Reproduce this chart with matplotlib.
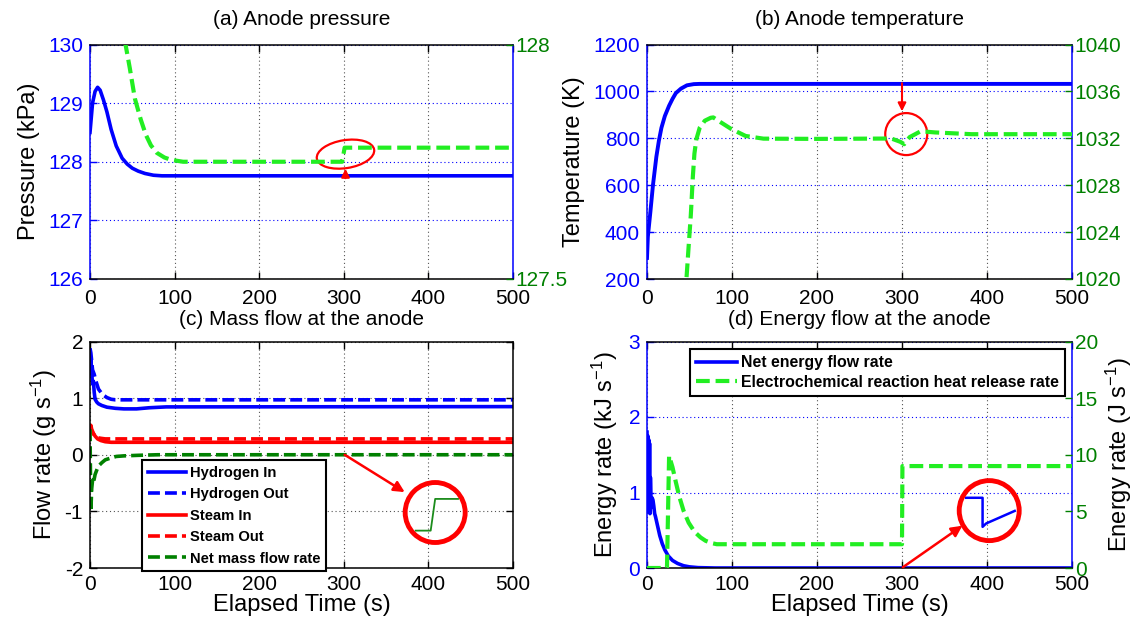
import matplotlib
matplotlib.use('Agg')
import matplotlib.pyplot as plt
import matplotlib.transforms as mtransforms
from matplotlib.patches import Ellipse, Circle

plt.rcParams['font.family'] = ['Liberation Sans', 'DejaVu Sans']
plt.rcParams['mathtext.default'] = 'regular'
plt.rcParams['axes.unicode_minus'] = False

# ---------------- data ----------------
time_ticks = [0, 100, 200, 300, 400, 500]

# (a) anode pressure
press_t = [0, 3, 6, 9, 12, 16, 20, 25, 31, 38, 44, 50, 57, 65, 75, 85, 96, 150, 300, 500]
press_v = [128.5, 129.0, 129.2, 129.27, 129.22, 129.05, 128.85, 128.55, 128.27, 128.06,
           127.96, 127.89, 127.84, 127.8, 127.77, 127.76, 127.76, 127.76, 127.76, 127.76]
press2_t = [38, 42, 47, 53, 60, 66, 72, 79, 88, 96, 110, 200, 298, 301, 400, 500]
press2_v = [128.05, 128.0, 127.95, 127.885, 127.84, 127.8075, 127.785, 127.769, 127.759,
            127.754, 127.75, 127.75, 127.75, 127.78, 127.78, 127.78]
a_left_ticks = [126, 127, 128, 129, 130]
a_right_ticks = [127.5, 128]
a_right_labels = ['127.5', '128']

# (b) anode temperature
temp_t = [0, 1, 4, 7, 11, 14, 17, 21, 26, 30, 34, 40, 47, 55, 62, 70, 500]
temp_v = [290, 380, 487, 600, 721, 790, 845, 895, 939, 968, 993, 1012, 1026, 1031, 1032, 1032, 1032]
temp2_t = [44, 46.4, 49, 51.5, 54, 55.8, 58, 62, 68, 75, 78, 86, 99, 116, 137, 200, 287.5,
           298, 302.6, 309, 322, 339, 382, 500]
temp2_v = [1018.5, 1020, 1022.8, 1025.4, 1028.8, 1030.7, 1031.9, 1032.9, 1033.5, 1033.75,
           1033.78, 1033.4, 1032.8, 1032.2, 1031.97, 1031.95, 1031.98, 1031.7, 1031.5,
           1032.1, 1032.6, 1032.5, 1032.35, 1032.35]
b_left_ticks = [200, 400, 600, 800, 1000, 1200]
b_right_ticks = [1020, 1024, 1028, 1032, 1036, 1040]

# (c) mass flow
h2_in_t = [0, 1, 2, 3, 4, 5, 6, 8, 10, 14, 20, 30, 40, 55, 70, 90, 500]
h2_in_v = [1.55, 1.7, 1.45, 1.25, 1.3, 1.1, 0.98, 0.93, 0.9, 0.87, 0.84, 0.82, 0.81, 0.81, 0.83, 0.845, 0.85]
h2_out_t = [0, 1, 2, 3, 5, 7, 10, 13, 16, 20, 25, 30, 500]
h2_out_v = [1.88, 1.8, 1.65, 1.5, 1.42, 1.3, 1.16, 1.1, 1.05, 1.01, 0.98, 0.97, 0.97]
st_in_t = [0, 1, 2, 4, 6, 9, 13, 18, 25, 500]
st_in_v = [0.45, 0.52, 0.45, 0.38, 0.33, 0.28, 0.25, 0.23, 0.22, 0.22]
st_out_t = [0, 1, 2, 4, 6, 9, 13, 18, 25, 500]
st_out_v = [0.40, 0.47, 0.42, 0.37, 0.33, 0.30, 0.29, 0.28, 0.28, 0.28]
net_t = [0, 0.5, 1, 2, 3, 4, 6, 8, 10, 14, 18, 24, 31, 40, 57, 80, 500]
net_v = [0.45, -0.3, -1.0, -0.6, -0.45, -0.5, -0.35, -0.27, -0.2, -0.14, -0.09, -0.06,
         -0.03, -0.02, -0.01, 0.0, 0.0]
c_ticks = [-2, -1, 0, 1, 2]
c_inset_t = [385, 402.7, 408, 435]
c_inset_v = [-1.34, -1.34, -0.78, -0.78]

# (d) energy flow
en_t = [0, 0.5, 1, 1.5, 2, 2.5, 3, 3.5, 4, 5, 6, 7, 8, 9, 10, 12, 15, 18, 21, 25, 30, 36,
        43, 50, 60, 80, 500]
en_v = [1.8, 0.8, 1.75, 0.75, 1.7, 0.75, 1.65, 0.72, 1.2, 0.8, 0.93, 0.9, 0.82, 0.72, 0.68,
        0.58, 0.43, 0.32, 0.24, 0.16, 0.1, 0.06, 0.03, 0.015, 0.005, 0.0, 0.0]
heat_t = [0, 23.5, 26, 30, 34, 38, 43, 49, 56, 63, 69, 76, 82, 90, 300, 300.5, 500]
heat_v = [0, 0, 9.9, 8.9, 7.56, 6.3, 5.06, 4.0, 3.19, 2.7, 2.4, 2.2, 2.1, 2.1, 2.1, 9.0, 9.0]
d_left_ticks = [0, 1, 2, 3]
d_right_ticks = [0, 5, 10, 15, 20]
d_inset_t = [375.5, 394.8, 394.8, 399, 432.6]
d_inset_v = [0.93, 0.93, 0.545, 0.59, 0.756]

# ---------------- style ----------------
BLUE = '#0000ff'
LIME = '#22ee22'
DKGREEN = '#008000'
RED = '#ff0000'
TICK_FS = 15
LABEL_FS = 17
TITLE_FS = 15
DASH = (3.3, 1.4)

fig = plt.figure(figsize=(11.37, 6.19), dpi=100)
W, H = 1137.0, 619.0


def rect(l, r, t, b):
    return [l / W, 1 - b / H, (r - l) / W, (b - t) / H]


ax_a = fig.add_axes(rect(90, 513, 44.5, 279))
ax_b = fig.add_axes(rect(647, 1072, 44.5, 279))
ax_c = fig.add_axes(rect(90, 513, 341.5, 568))
ax_d = fig.add_axes(rect(647, 1072, 341.5, 568))


def style_main(ax, ycolor, hgrid_color, xpad=5):
    ax.set_xlim(0, 500)
    ax.set_xticks(time_ticks)
    ax.tick_params(axis='x', direction='in', top=True, bottom=True, length=5, width=1,
                   color='black', labelcolor='black', labelsize=TICK_FS, pad=xpad)
    ax.tick_params(axis='y', direction='in', left=True, right=True, length=5, width=1,
                   color=ycolor, labelcolor=ycolor, labelsize=TICK_FS, pad=5)
    ax.spines['left'].set_color(ycolor)
    ax.spines['right'].set_color(ycolor)
    for s in ax.spines.values():
        s.set_linewidth(1.1)
    ax.xaxis.grid(True, color='#555555', linestyle=(0, (1, 2.5)), linewidth=0.8)
    ax.yaxis.grid(True, color=hgrid_color, linestyle=(0, (1, 2.5)), linewidth=0.8)
    ax.set_axisbelow(True)


def style_twin(ax2):
    ax2.tick_params(axis='y', direction='in', right=True, length=5, width=1,
                    color=DKGREEN, labelcolor=DKGREEN, labelsize=TICK_FS, pad=2)
    for s in ax2.spines.values():
        s.set_visible(False)


def red_arrow(host, ref_ax, start, end, lw=1.8, ms=14):
    host.annotate('', xy=end, xytext=start, xycoords=ref_ax.transData,
                  textcoords=ref_ax.transData,
                  arrowprops=dict(arrowstyle='-|>', color=RED, lw=lw, mutation_scale=ms,
                                  shrinkA=0, shrinkB=0))


def inch_patch(host, ref_ax, patch, x, y):
    patch.set_transform(fig.dpi_scale_trans +
                        mtransforms.ScaledTranslation(x, y, ref_ax.transData))
    host.add_patch(patch)


def make_legend(host, handles, fs, **kw):
    leg = host.legend(handles=handles, borderaxespad=0, prop={'weight': 'bold', 'size': fs},
                      fancybox=False, edgecolor='black', framealpha=1, handlelength=2.6,
                      handletextpad=0.25, borderpad=0.4, **kw)
    leg.get_frame().set_linewidth(1.5)
    leg.set_zorder(10)
    return leg


# ---------- (a) ----------
ax = ax_a
style_main(ax, BLUE, BLUE, xpad=7)
ax.plot(press_t, press_v, color=BLUE, lw=2.6)
ax.set_ylim(126, 130)
ax.set_yticks(a_left_ticks)
ax.set_ylabel('Pressure (kPa)', fontsize=LABEL_FS, color='black', labelpad=6)
ax.set_title('(a) Anode pressure', fontsize=TITLE_FS, pad=14)
ax2 = ax.twinx()
ax2.plot(press2_t, press2_v, color=LIME, lw=3, dashes=DASH)
ax2.set_ylim(127.5, 128)
ax2.set_yticks(a_right_ticks)
ax2.set_yticklabels(a_right_labels)
style_twin(ax2)
ax2.set_xlim(0, 500)
inch_patch(ax2, ax, Ellipse((0, 0), 0.58, 0.28, angle=9, fill=False, ec=RED, lw=1.6),
           302, 128.13)
red_arrow(ax2, ax, (302, 127.72), (302, 127.88), lw=1.5, ms=12)

# ---------- (b) ----------
ax = ax_b
style_main(ax, BLUE, BLUE, xpad=7)
ax.plot(temp_t, temp_v, color=BLUE, lw=2.8)
ax.set_ylim(200, 1200)
ax.set_yticks(b_left_ticks)
ax.set_ylabel('Temperature (K)', fontsize=LABEL_FS, color='black', labelpad=6)
ax.set_title('(b) Anode temperature', fontsize=TITLE_FS, pad=14)
ax2 = ax.twinx()
ax2.plot(temp2_t, temp2_v, color=LIME, lw=3, dashes=DASH)
ax2.set_ylim(1020, 1040)
ax2.set_yticks(b_right_ticks)
style_twin(ax2)
ax2.set_xlim(0, 500)
inch_patch(ax2, ax, Circle((0, 0), 0.21, fill=False, ec=RED, lw=1.6), 305, 818)
red_arrow(ax2, ax, (300, 1035), (300, 915), lw=1.5, ms=12)

# ---------- (c) ----------
ax = ax_c
style_main(ax, 'black', '#555555')
l1, = ax.plot(h2_in_t, h2_in_v, color=BLUE, lw=2.6, label='Hydrogen In')
l2, = ax.plot(h2_out_t, h2_out_v, color=BLUE, lw=2.6, dashes=DASH, label='Hydrogen Out')
l3, = ax.plot(st_in_t, st_in_v, color=RED, lw=2.6, label='Steam In')
l4, = ax.plot(st_out_t, st_out_v, color=RED, lw=2.6, dashes=DASH, label='Steam Out')
l5, = ax.plot(net_t, net_v, color=DKGREEN, lw=2.6, dashes=DASH, label='Net mass flow rate')
ax.set_ylim(-2, 2)
ax.set_yticks(c_ticks)
ax.set_ylabel('Flow rate (g s$^{-1}$)', fontsize=LABEL_FS, color='black', labelpad=4)
ax.set_xlabel('Elapsed Time (s)', fontsize=LABEL_FS, labelpad=0)
ax.set_title('(c) Mass flow at the anode', fontsize=TITLE_FS, pad=12)
make_legend(ax, [l1, l2, l3, l4, l5], 10.6, loc='lower left',
            bbox_to_anchor=(0.123, -0.015), labelspacing=0.5)
ax.plot(c_inset_t, c_inset_v, color='#1c8c1c', lw=1.3)
inch_patch(ax, ax, Circle((0, 0), 0.30, fill=False, ec=RED, lw=3.5), 408, -1.02)
red_arrow(ax, ax, (301, 0.0), (372, -0.66), lw=1.8, ms=16)

# ---------- (d) ----------
ax = ax_d
style_main(ax, BLUE, BLUE)
m1, = ax.plot(en_t, en_v, color=BLUE, lw=2.6, label='Net energy flow rate')
ax.set_ylim(0, 3)
ax.set_yticks(d_left_ticks)
ax.set_ylabel('Energy rate (kJ s$^{-1}$)', fontsize=LABEL_FS, color='black', labelpad=6)
ax.set_xlabel('Elapsed Time (s)', fontsize=LABEL_FS, labelpad=0)
ax.set_title('(d) Energy flow at the anode', fontsize=TITLE_FS, pad=12)
ax.plot(d_inset_t, d_inset_v, color=BLUE, lw=1.8)
ax2 = ax.twinx()
m2, = ax2.plot(heat_t, heat_v, color=LIME, lw=3, dashes=DASH,
               label='Electrochemical reaction heat release rate')
ax2.set_ylim(0, 20)
ax2.set_yticks(d_right_ticks)
style_twin(ax2)
ax2.set_xlim(0, 500)
ax2.set_ylabel('Energy rate (J s$^{-1}$)', fontsize=LABEL_FS, color='black', labelpad=4)
make_legend(ax2, [m1, m2], 11.4, loc='upper right', bbox_to_anchor=(0.984, 0.968),
            labelspacing=0.3)
inch_patch(ax2, ax, Circle((0, 0), 0.30, fill=False, ec=RED, lw=3.5), 402.6, 0.76)
red_arrow(ax2, ax, (301, 0.01), (371, 0.56), lw=1.8, ms=16)

fig.savefig('out.png', dpi=100, facecolor='white')
